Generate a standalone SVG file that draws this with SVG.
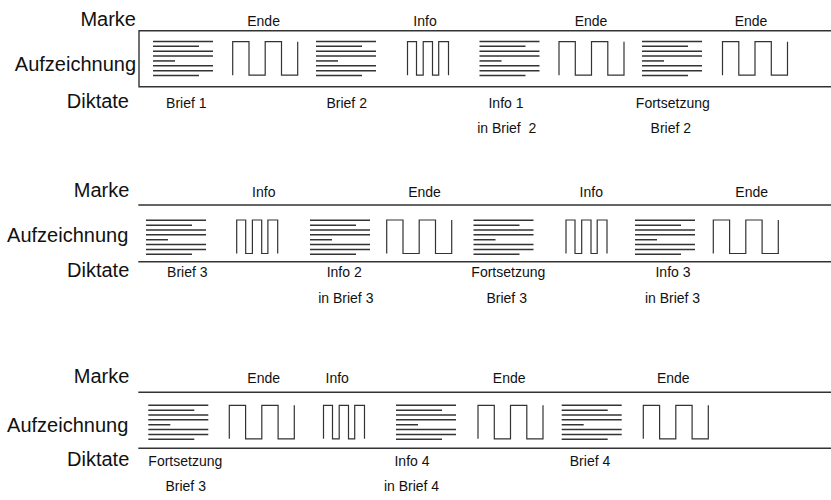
<svg xmlns="http://www.w3.org/2000/svg" xmlns:xlink="http://www.w3.org/1999/xlink" width="831" height="500" viewBox="0 0 831 500">
<style>
text{font-family:"Liberation Sans",Arial,sans-serif;fill:#111}
.big{font-size:20px;text-anchor:end}
.sm{font-size:14px;text-anchor:middle}
.rule{stroke:#333;stroke-width:1.4;fill:none}
.blk line{stroke:#333;stroke-width:1.5}
.wave{stroke:#333;stroke-width:1.2;fill:none}
</style>
<defs>
<g id="blk" class="blk">
<line x1="0" y1="0" x2="60" y2="0"/>
<line x1="0" y1="4.86" x2="46" y2="4.86"/>
<line x1="0" y1="9.71" x2="60" y2="9.71"/>
<line x1="0" y1="14.57" x2="60" y2="14.57"/>
<line x1="0" y1="19.43" x2="22" y2="19.43"/>
<line x1="0" y1="24.29" x2="60" y2="24.29"/>
<line x1="0" y1="29.14" x2="60" y2="29.14"/>
<line x1="0" y1="34" x2="46" y2="34"/>
</g>
<path id="ende" class="wave" d="M0,33.5V0H16.3V33.5H32.5V0H48.8V33.5H65V0"/>
<path id="info" class="wave" d="M0,33.5V0H9V33.5H15.7V0H25V33.5H31.2V0H41V33.5"/>
</defs>

<g id="row1">
<text class="big" x="136" y="26">Marke</text>
<text class="big" x="136" y="70.5">Aufzeichnung</text>
<text class="big" x="129" y="108.3">Diktate</text>
<path class="rule" d="M831,30.7H139V86.8H831"/>
<g id="r1-marks">
<text class="sm" x="263.6" y="26">Ende</text>
<text class="sm" x="425" y="26">Info</text>
<text class="sm" x="591" y="26">Ende</text>
<text class="sm" x="751" y="26">Ende</text>
</g>
<g id="r1-rec">
<use xlink:href="#blk" x="153" y="41.5"/>
<use xlink:href="#ende" x="232.7" y="41.7"/>
<use xlink:href="#blk" x="316" y="41.5"/>
<use xlink:href="#info" x="407.5" y="41.7"/>
<use xlink:href="#blk" x="479.5" y="41.5"/>
<use xlink:href="#ende" x="559" y="41.7"/>
<use xlink:href="#blk" x="642" y="41.5"/>
<use xlink:href="#ende" x="722.5" y="41.7"/>
</g>
<g id="r1-dict">
<text class="sm" x="186.3" y="108.3">Brief 1</text>
<text class="sm" x="346.7" y="108.3">Brief 2</text>
<text class="sm" x="506" y="108.3">Info 1</text>
<text class="sm" x="506.7" y="133" xml:space="preserve">in Brief  2</text>
<text class="sm" x="672.8" y="108.3">Fortsetzung</text>
<text class="sm" x="670.8" y="133">Brief 2</text>
</g>
</g>

<g id="row2">
<text class="big" x="129.3" y="197.3">Marke</text>
<text class="big" x="128.3" y="241.7">Aufzeichnung</text>
<text class="big" x="129.3" y="277.3">Diktate</text>
<path class="rule" d="M138.3,205H831M138.3,261.7H831"/>
<g id="r2-marks">
<text class="sm" x="263.8" y="197.3">Info</text>
<text class="sm" x="424.5" y="197.3">Ende</text>
<text class="sm" x="591.3" y="197.3">Info</text>
<text class="sm" x="751.7" y="197.3">Ende</text>
</g>
<g id="r2-rec">
<use xlink:href="#blk" x="146" y="220.3"/>
<use xlink:href="#info" x="236.7" y="220"/>
<use xlink:href="#blk" x="310" y="220.3"/>
<use xlink:href="#ende" x="386.7" y="220"/>
<use xlink:href="#blk" x="473.5" y="220.3"/>
<use xlink:href="#info" x="566" y="220"/>
<use xlink:href="#blk" x="635" y="220.3"/>
<use xlink:href="#ende" x="713.3" y="220"/>
</g>
<g id="r2-dict">
<text class="sm" x="187.3" y="277.3">Brief 3</text>
<text class="sm" x="344.2" y="277.3">Info 2</text>
<text class="sm" x="345.8" y="302.7">in Brief 3</text>
<text class="sm" x="508.3" y="277.3">Fortsetzung</text>
<text class="sm" x="506.7" y="302.7">Brief 3</text>
<text class="sm" x="673" y="277.3">Info 3</text>
<text class="sm" x="672.5" y="302.7">in Brief 3</text>
</g>
</g>

<g id="row3">
<text class="big" x="129.3" y="383.3">Marke</text>
<text class="big" x="128.3" y="431.5">Aufzeichnung</text>
<text class="big" x="129.3" y="466.3">Diktate</text>
<path class="rule" d="M138.3,392.3H831M138.3,448.3H831"/>
<g id="r3-marks">
<text class="sm" x="263.7" y="383.3">Ende</text>
<text class="sm" x="337.2" y="383.3">Info</text>
<text class="sm" x="509.2" y="383.3">Ende</text>
<text class="sm" x="673.3" y="383.3">Ende</text>
</g>
<g id="r3-rec">
<use xlink:href="#blk" x="148.3" y="405.3"/>
<use xlink:href="#ende" x="229.3" y="405.3"/>
<use xlink:href="#info" x="323.5" y="405.3"/>
<use xlink:href="#blk" x="396" y="405.3"/>
<use xlink:href="#ende" x="478" y="405.3"/>
<use xlink:href="#blk" x="561.7" y="405.3"/>
<use xlink:href="#ende" x="643.3" y="405.3"/>
</g>
<g id="r3-dict">
<text class="sm" x="185.3" y="466.3">Fortsetzung</text>
<text class="sm" x="185.7" y="491.3">Brief 3</text>
<text class="sm" x="412" y="466.3">Info 4</text>
<text class="sm" x="411.5" y="491.3">in Brief 4</text>
<text class="sm" x="590" y="466.3">Brief 4</text>
</g>
</g>
</svg>
